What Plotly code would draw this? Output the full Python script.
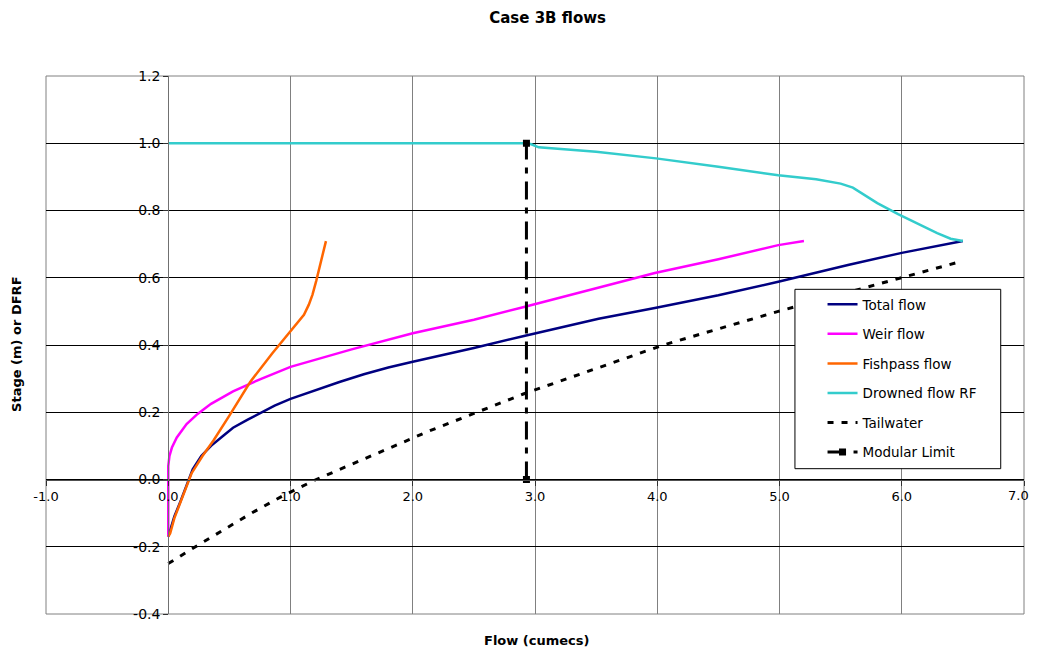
"""
Case 3B flows - stage vs flow
"""

import plotly.graph_objects as go

# series values
total_x = [0, 0.05, 0.1, 0.2, 0.27, 0.35, 0.45, 0.53, 0.65, 0.75, 0.87, 1.0, 1.2, 1.4, 1.6, 1.8, 2.0, 2.2, 2.5,
           2.91, 3.52, 3.98, 4.5, 4.99, 5.56, 6.0, 6.3, 6.5]
total_y = [-0.17, -0.11, -0.065, 0.03, 0.07, 0.1, 0.13, 0.154, 0.178, 0.198, 0.22, 0.24, 0.266, 0.29, 0.313,
           0.333, 0.35, 0.366, 0.391, 0.427, 0.478, 0.51, 0.548, 0.588, 0.638, 0.674, 0.695, 0.709]

weir_x = [0, 0, 0.01, 0.03, 0.07, 0.15, 0.24, 0.35, 0.53, 0.75, 1.0, 1.25, 1.5, 2.0, 2.5, 2.91, 3.52, 3.98,
          4.5, 4.99, 5.2]
weir_y = [-0.17, 0.04, 0.07, 0.095, 0.125, 0.165, 0.195, 0.225, 0.262, 0.298, 0.335, 0.362, 0.387, 0.435,
          0.475, 0.513, 0.57, 0.614, 0.655, 0.697, 0.709]

fish_x = [0, 0.016, 0.05, 0.1, 0.19, 0.28, 0.37, 0.5, 0.67, 0.85, 1.0, 1.06, 1.11, 1.15, 1.18, 1.21, 1.235,
          1.255, 1.275, 1.29]
fish_y = [-0.17, -0.16, -0.115, -0.068, 0.018, 0.07, 0.116, 0.19, 0.29, 0.375, 0.44, 0.465, 0.49, 0.52,
          0.55, 0.59, 0.63, 0.66, 0.69, 0.709]

drowned_x = [0, 2.93, 2.97, 3.03, 3.5, 3.99, 4.5, 4.99, 5.3, 5.5, 5.6, 5.7, 5.8, 5.97, 6.13, 6.29, 6.4, 6.5]
drowned_y = [1.0, 1.0, 0.997, 0.988, 0.975, 0.955, 0.93, 0.905, 0.893, 0.88, 0.868, 0.846, 0.822, 0.789,
             0.76, 0.733, 0.716, 0.709]

tail_x = [0, 0.24, 0.69, 0.94, 1.21, 1.89, 2.14, 2.91, 3.52, 4.05, 4.99, 6.0, 6.5]
tail_y = [-0.25, -0.196, -0.098, -0.048, 0.0, 0.107, 0.145, 0.255, 0.332, 0.40, 0.50, 0.6, 0.65]

modular_x = [2.93, 2.93]
modular_y = [0.0, 1.0]

x_ticks = [-1, 0, 1, 2, 3, 4, 5, 6, 7]
x_labels = ["-1.0", "0.0", "1.0", "2.0", "3.0", "4.0", "5.0", "6.0", "7.0"]
y_ticks = [-0.4, -0.2, 0.0, 0.2, 0.4, 0.6, 0.8, 1.0, 1.2]
y_labels = ["-0.4", "-0.2", "0.0", "0.2", "0.4", "0.6", "0.8", "1.0", "1.2"]

FONT = "DejaVu Sans, sans-serif"

fig = go.Figure()
fig.add_trace(go.Scatter(x=total_x, y=total_y, name="Total flow", mode="lines",
                         line=dict(color="#000080", width=2.5), legendgroup="a"))
fig.add_trace(go.Scatter(x=weir_x, y=weir_y, name="Weir flow", mode="lines",
                         line=dict(color="#FF00FF", width=2.5), legendgroup="b"))
fig.add_trace(go.Scatter(x=fish_x, y=fish_y, name="Fishpass flow", mode="lines",
                         line=dict(color="#FF6600", width=2.5), legendgroup="c"))
fig.add_trace(go.Scatter(x=drowned_x, y=drowned_y, name="Drowned flow RF", mode="lines",
                         line=dict(color="#33CCCC", width=2.5), legendgroup="d"))
fig.add_trace(go.Scatter(x=tail_x, y=tail_y, name="Tailwater", mode="lines",
                         line=dict(color="black", width=3, dash="6px,8px"), legendgroup="e"))
fig.add_trace(go.Scatter(x=modular_x, y=modular_y, name="Modular Limit", mode="lines+markers",
                         line=dict(color="black", width=3, dash="18px,8px,6px,8px"),
                         marker=dict(symbol="square", size=7, color="black"), legendgroup="f"))

# page body has an 8px margin, so keep the figure inside the window
fig.update_layout(
    width=1022, height=639,
    margin=dict(l=38, r=6, t=68, b=33),
    paper_bgcolor="white", plot_bgcolor="white",
    font=dict(family=FONT, size=13, color="black"),
    title=dict(text="<b>Case 3B flows</b>", x=0.528, y=0.984, xanchor="center", yanchor="middle",
               font=dict(family=FONT, size=15, color="black")),
    showlegend=True,
    legend=dict(x=0.794, y=0.604, xanchor="left", yanchor="top",
                bgcolor="rgba(0,0,0,0)", borderwidth=0,
                font=dict(family=FONT, size=13.5, color="black"),
                tracegroupgap=9, traceorder="grouped"),
    xaxis=dict(range=[-1, 7], tickvals=x_ticks, ticktext=x_labels[:-1] + [""],
               showgrid=True, gridcolor="#808080", gridwidth=1, zeroline=False,
               showline=True, linecolor="#505050", linewidth=1,
               anchor="free", position=0.25,
               ticks="outside", ticklen=5, tickcolor="#303030",
               tickfont=dict(family=FONT, size=13)),
    yaxis=dict(range=[-0.4, 1.2], tickvals=y_ticks, ticktext=y_labels,
               showgrid=True, gridcolor="black", gridwidth=1, zeroline=False,
               showline=True, linecolor="#707070", linewidth=1,
               anchor="free", position=0.125,
               ticks="outside", ticklen=5, tickcolor="#303030",
               tickfont=dict(family=FONT, size=14)),
    annotations=[
        # last x tick label sits at the page edge, keep it inside the figure
        dict(text=x_labels[-1], xref="x", yref="y", x=x_ticks[-1], y=0, xanchor="center", yanchor="top",
             xshift=-6, yshift=-6, showarrow=False, font=dict(family=FONT, size=13)),
        dict(text="<b>Flow (cumecs)</b>", xref="paper", yref="paper", x=0.502, y=-0.05,
             showarrow=False, xanchor="center", yanchor="middle", font=dict(size=13)),
        dict(text="<b>Stage (m) or DFRF</b>", xref="paper", yref="paper", x=-0.0297, y=0.502,
             showarrow=False, textangle=-90, xanchor="center", yanchor="middle", font=dict(size=13)),
    ],
    shapes=[
        dict(type="rect", xref="paper", yref="paper", x0=0, y0=0, x1=1, y1=1,
             line=dict(color="#808080", width=1), layer="below"),
        # legend frame, drawn over the lines like the original
        dict(type="rect", xref="paper", yref="paper", x0=0.7658, y0=0.2701, x1=0.9762, y1=0.6035,
             line=dict(color="black", width=1), fillcolor="white", layer="above"),
    ],
)

fig.write_html("out.html", config={"displayModeBar": False})
